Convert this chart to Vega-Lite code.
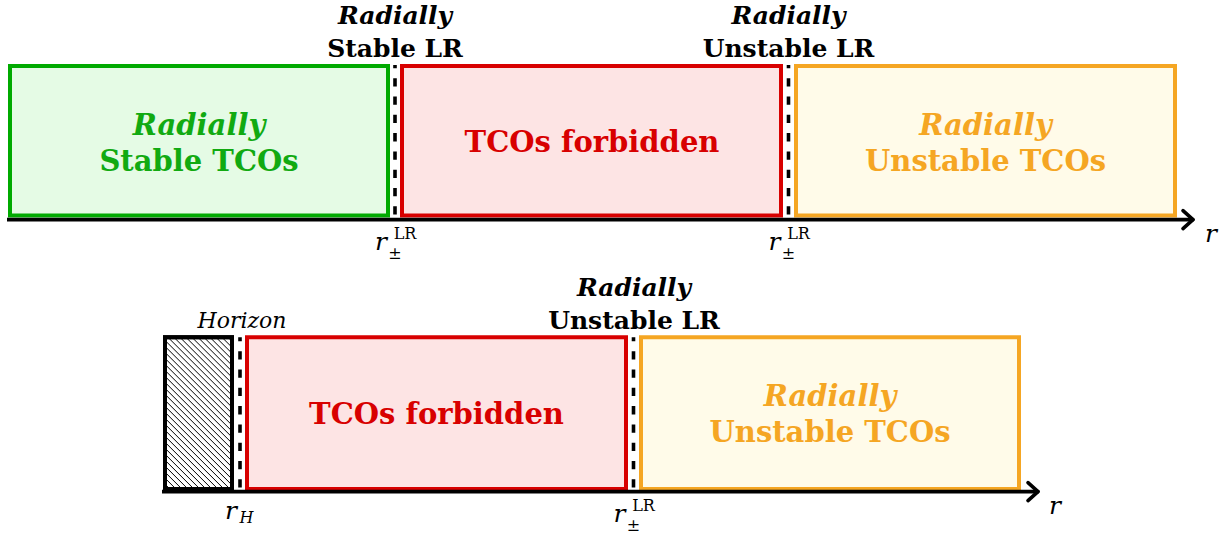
{
  "$schema": "https://vega.github.io/schema/vega-lite/v6.json",
  "width": 1228,
  "height": 534,
  "autosize": {"type": "fit", "contains": "padding"},
  "padding": 0,
  "background": "#ffffff",
  "config": {"view": {"stroke": null}},
  "datasets": {
    "boxes": [
      {"zone": "stable", "x": 10, "x2": 388, "y": 66, "y2": 216},
      {"zone": "forbidden", "x": 402, "x2": 781, "y": 66, "y2": 216},
      {"zone": "unstable", "x": 796, "x2": 1175, "y": 66, "y2": 216},
      {"zone": "horizon", "x": 165, "x2": 232, "y": 338, "y2": 490},
      {"zone": "forbidden", "x": 247, "x2": 626, "y": 338, "y2": 490},
      {"zone": "unstable", "x": 641, "x2": 1019, "y": 338, "y2": 490}
    ],
    "hatch": [
      {"x": 229, "y": 339, "x2": 232, "y2": 342},
      {"x": 223, "y": 339, "x2": 232, "y2": 348},
      {"x": 217, "y": 339, "x2": 232, "y2": 354},
      {"x": 211, "y": 339, "x2": 232, "y2": 360},
      {"x": 205, "y": 339, "x2": 232, "y2": 366},
      {"x": 199, "y": 339, "x2": 232, "y2": 372},
      {"x": 193, "y": 339, "x2": 232, "y2": 378},
      {"x": 187, "y": 339, "x2": 232, "y2": 384},
      {"x": 181, "y": 339, "x2": 232, "y2": 390},
      {"x": 175, "y": 339, "x2": 232, "y2": 396},
      {"x": 169, "y": 339, "x2": 232, "y2": 402},
      {"x": 166, "y": 342, "x2": 232, "y2": 408},
      {"x": 166, "y": 348, "x2": 232, "y2": 414},
      {"x": 166, "y": 354, "x2": 232, "y2": 420},
      {"x": 166, "y": 360, "x2": 232, "y2": 426},
      {"x": 166, "y": 366, "x2": 232, "y2": 432},
      {"x": 166, "y": 372, "x2": 232, "y2": 438},
      {"x": 166, "y": 378, "x2": 232, "y2": 444},
      {"x": 166, "y": 384, "x2": 232, "y2": 450},
      {"x": 166, "y": 390, "x2": 232, "y2": 456},
      {"x": 166, "y": 396, "x2": 232, "y2": 462},
      {"x": 166, "y": 402, "x2": 232, "y2": 468},
      {"x": 166, "y": 408, "x2": 232, "y2": 474},
      {"x": 166, "y": 414, "x2": 232, "y2": 480},
      {"x": 166, "y": 420, "x2": 232, "y2": 486},
      {"x": 166, "y": 426, "x2": 229, "y2": 489},
      {"x": 166, "y": 432, "x2": 223, "y2": 489},
      {"x": 166, "y": 438, "x2": 217, "y2": 489},
      {"x": 166, "y": 444, "x2": 211, "y2": 489},
      {"x": 166, "y": 450, "x2": 205, "y2": 489},
      {"x": 166, "y": 456, "x2": 199, "y2": 489},
      {"x": 166, "y": 462, "x2": 193, "y2": 489},
      {"x": 166, "y": 468, "x2": 187, "y2": 489},
      {"x": 166, "y": 474, "x2": 181, "y2": 489},
      {"x": 166, "y": 480, "x2": 175, "y2": 489},
      {"x": 166, "y": 486, "x2": 169, "y2": 489}
    ],
    "dashes": [
      {"x": 395, "y": 215, "y2": 65},
      {"x": 788.5, "y": 215, "y2": 65},
      {"x": 240, "y": 488.5, "y2": 338},
      {"x": 633.5, "y": 488.5, "y2": 338}
    ],
    "axes": [
      {"x": 7, "y": 220, "x2": 1192, "y2": 220},
      {"x": 162, "y": 492.5, "x2": 1037, "y2": 492.5}
    ],
    "heads": [
      {"x": 1183, "y": 211, "x2": 1193, "y2": 220},
      {"x": 1183, "y": 229, "x2": 1193, "y2": 220},
      {"x": 1028, "y": 483.5, "x2": 1038, "y2": 492.5},
      {"x": 1028, "y": 501.5, "x2": 1038, "y2": 492.5}
    ],
    "texts": [
      {"kind": "boxit", "text": "Radially", "x": 199, "y": 135, "zone": "stable"},
      {"kind": "boxit", "text": "Radially", "x": 985.5, "y": 135, "zone": "unstable"},
      {"kind": "boxit", "text": "Radially", "x": 830, "y": 407, "zone": "unstable"},
      {"kind": "boxbf", "text": "Stable TCOs", "x": 199, "y": 171.5, "zone": "stable"},
      {"kind": "boxbf", "text": "TCOs forbidden", "x": 592, "y": 152, "zone": "forbidden"},
      {"kind": "boxbf", "text": "Unstable TCOs", "x": 985.5, "y": 171.5, "zone": "unstable"},
      {"kind": "boxbf", "text": "TCOs forbidden", "x": 436.5, "y": 424.5, "zone": "forbidden"},
      {"kind": "boxbf", "text": "Unstable TCOs", "x": 830, "y": 443, "zone": "unstable"},
      {"kind": "labit", "text": "Radially", "x": 395, "y": 24, "zone": "label"},
      {"kind": "labit", "text": "Radially", "x": 788.5, "y": 24, "zone": "label"},
      {"kind": "labit", "text": "Radially", "x": 634, "y": 297, "zone": "label"},
      {"kind": "labbf", "text": "Stable LR", "x": 395, "y": 57, "zone": "label"},
      {"kind": "labbf", "text": "Unstable LR", "x": 788.5, "y": 57, "zone": "label"},
      {"kind": "labbf", "text": "Unstable LR", "x": 634, "y": 330, "zone": "label"},
      {"kind": "it", "text": "Horizon", "x": 242, "y": 329, "zone": "label"},
      {"kind": "r", "text": "r", "x": 381, "y": 250, "zone": "label"},
      {"kind": "r", "text": "r", "x": 774.5, "y": 250, "zone": "label"},
      {"kind": "r", "text": "r", "x": 619.5, "y": 522.5, "zone": "label"},
      {"kind": "r", "text": "r", "x": 231, "y": 520, "zone": "label"},
      {"kind": "r", "text": "r", "x": 1211, "y": 242, "zone": "label"},
      {"kind": "r", "text": "r", "x": 1055, "y": 515, "zone": "label"},
      {"kind": "sup", "text": "LR", "x": 405, "y": 239.5, "zone": "label"},
      {"kind": "sup", "text": "LR", "x": 798.5, "y": 239.5, "zone": "label"},
      {"kind": "sup", "text": "LR", "x": 643.5, "y": 512, "zone": "label"},
      {"kind": "pm", "text": "±", "x": 395, "y": 259, "zone": "label"},
      {"kind": "pm", "text": "±", "x": 788.5, "y": 259, "zone": "label"},
      {"kind": "pm", "text": "±", "x": 633.5, "y": 531.5, "zone": "label"},
      {"kind": "sub", "text": "H", "x": 246.5, "y": 524, "zone": "label"}
    ]
  },
  "encoding": {
    "x": {"field": "x", "type": "quantitative", "scale": {"domain": [0, 1228], "nice": false, "zero": false}, "axis": null},
    "y": {"field": "y", "type": "quantitative", "scale": {"domain": [0, 534], "reverse": true, "nice": false, "zero": false}, "axis": null}
  },
  "layer": [
    {
      "data": {"name": "boxes"},
      "mark": {"type": "rect", "strokeWidth": 4, "strokeJoin": "miter"},
      "encoding": {
        "x2": {"field": "x2"},
        "y2": {"field": "y2"},
        "fill": {"field": "zone", "type": "nominal", "legend": null,
          "scale": {"domain": ["stable", "forbidden", "unstable", "horizon"], "range": ["#e5fbe5", "#fde4e4", "#fffbe9", "#ffffff"]}},
        "stroke": {"field": "zone", "type": "nominal", "legend": null,
          "scale": {"domain": ["stable", "forbidden", "unstable", "horizon"], "range": ["#00aa00", "#d80000", "#f5a623", "#000000"]}}
      }
    },
    {
      "data": {"name": "hatch"},
      "mark": {"type": "rule", "color": "#000000", "strokeWidth": 1},
      "encoding": {"x2": {"field": "x2"}, "y2": {"field": "y2"}}
    },
    {
      "data": {"name": "boxes"},
      "transform": [{"filter": "datum.zone === 'horizon'"}],
      "mark": {"type": "rect", "fill": null, "filled": false, "stroke": "#000000", "strokeWidth": 4},
      "encoding": {"x2": {"field": "x2"}, "y2": {"field": "y2"}}
    },
    {
      "data": {"name": "dashes"},
      "mark": {"type": "rule", "color": "#000000", "strokeWidth": 3.6, "strokeDash": [8.3, 10], "strokeCap": "butt"},
      "encoding": {"y2": {"field": "y2"}}
    },
    {
      "data": {"name": "axes"},
      "mark": {"type": "rule", "color": "#000000", "strokeWidth": 3.6, "strokeCap": "butt"},
      "encoding": {"x2": {"field": "x2"}, "y2": {"field": "y2"}}
    },
    {
      "data": {"name": "heads"},
      "mark": {"type": "rule", "color": "#000000", "strokeWidth": 3.6, "strokeCap": "round"},
      "encoding": {"x2": {"field": "x2"}, "y2": {"field": "y2"}}
    },
    {
      "data": {"name": "texts"},
      "transform": [{"filter": "datum.kind === 'boxit'"}],
      "mark": {"type": "text", "font": "DejaVu Serif", "fontSize": 29, "fontWeight": "bold", "fontStyle": "italic", "align": "center", "baseline": "alphabetic"},
      "encoding": {
        "text": {"field": "text"},
        "color": {"field": "zone", "type": "nominal", "legend": null,
          "scale": {"domain": ["stable", "forbidden", "unstable", "label"], "range": ["#11aa11", "#d80000", "#f5a623", "#000000"]}}
      }
    },
    {
      "data": {"name": "texts"},
      "transform": [{"filter": "datum.kind === 'boxbf'"}],
      "mark": {"type": "text", "font": "DejaVu Serif", "fontSize": 29, "fontWeight": "bold", "align": "center", "baseline": "alphabetic"},
      "encoding": {
        "text": {"field": "text"},
        "color": {"field": "zone", "type": "nominal", "legend": null}
      }
    },
    {
      "data": {"name": "texts"},
      "transform": [{"filter": "datum.kind === 'labit'"}],
      "mark": {"type": "text", "font": "DejaVu Serif", "fontSize": 25, "fontWeight": "bold", "fontStyle": "italic", "align": "center", "baseline": "alphabetic", "color": "#000000"},
      "encoding": {"text": {"field": "text"}}
    },
    {
      "data": {"name": "texts"},
      "transform": [{"filter": "datum.kind === 'labbf'"}],
      "mark": {"type": "text", "font": "DejaVu Serif", "fontSize": 25, "fontWeight": "bold", "align": "center", "baseline": "alphabetic", "color": "#000000"},
      "encoding": {"text": {"field": "text"}}
    },
    {
      "data": {"name": "texts"},
      "transform": [{"filter": "datum.kind === 'it'"}],
      "mark": {"type": "text", "font": "DejaVu Serif", "fontSize": 22, "fontStyle": "italic", "align": "center", "baseline": "alphabetic", "color": "#000000"},
      "encoding": {"text": {"field": "text"}}
    },
    {
      "data": {"name": "texts"},
      "transform": [{"filter": "datum.kind === 'r'"}],
      "mark": {"type": "text", "font": "DejaVu Serif", "fontSize": 25, "fontStyle": "italic", "align": "center", "baseline": "alphabetic", "color": "#000000"},
      "encoding": {"text": {"field": "text"}}
    },
    {
      "data": {"name": "texts"},
      "transform": [{"filter": "datum.kind === 'sup'"}],
      "mark": {"type": "text", "font": "DejaVu Serif", "fontSize": 16, "align": "center", "baseline": "alphabetic", "color": "#000000"},
      "encoding": {"text": {"field": "text"}}
    },
    {
      "data": {"name": "texts"},
      "transform": [{"filter": "datum.kind === 'pm'"}],
      "mark": {"type": "text", "font": "DejaVu Serif", "fontSize": 16, "align": "center", "baseline": "alphabetic", "color": "#000000"},
      "encoding": {"text": {"field": "text"}}
    },
    {
      "data": {"name": "texts"},
      "transform": [{"filter": "datum.kind === 'sub'"}],
      "mark": {"type": "text", "font": "DejaVu Serif", "fontSize": 16, "fontStyle": "italic", "align": "center", "baseline": "alphabetic", "color": "#000000"},
      "encoding": {"text": {"field": "text"}}
    }
  ]
}
